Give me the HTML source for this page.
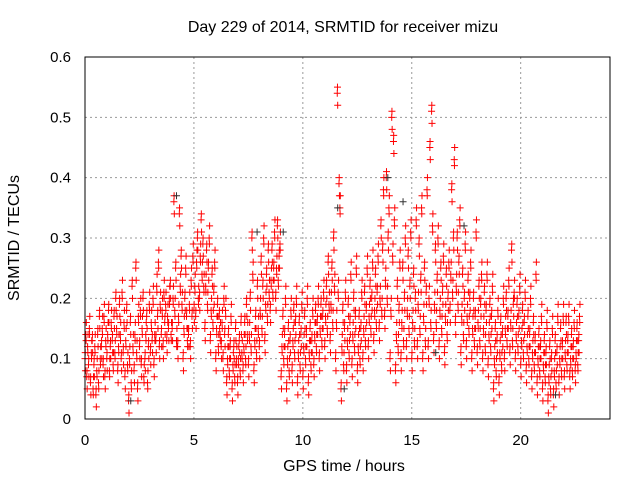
<!DOCTYPE html>
<html><head><meta charset="utf-8"><style>
html,body{margin:0;padding:0;background:#fff}
svg{display:block;font-family:"Liberation Sans",sans-serif}
</style></head><body>
<svg id="chart" width="640" height="480">
<text x="343" y="32" font-size="16" text-anchor="middle">Day 229 of 2014, SRMTID for receiver mizu</text>
<text x="344" y="471" font-size="16" text-anchor="middle">GPS time / hours</text>
<text x="0" y="0" font-size="16" text-anchor="middle" transform="translate(19,238) rotate(-90)">SRMTID / TECUs</text>
<g id="grid"></g><g id="pts"></g>
<rect x="85" y="57" width="525" height="362" fill="none" stroke="#000" stroke-width="1"/>
<g id="ticks"></g>
</svg>
<script>
const xTicks=[0,5,10,15,20];
const yTicks=[0,0.1,0.2,0.3,0.4,0.5,0.6];
const yTickLabels=["0","0.1","0.2","0.3","0.4","0.5","0.6"];
const binHours=0.25;
const redBins=[
[10,14,7,12,9,15],[6,11,13,5,9,12],[4,8,14,6,17,10],[12,15,9,17,7,13],
[10,14,18,8,12,16],[13,9,17,11,20,15],[8,12,19,14,10,21],[11,16,7,13,18,9],
[3,10,16,6,22,12],[8,14,25,11,5,17],[12,18,9,15,20,7],[10,14,17,6,12,19],
[11,16,13,20,9,14],[13,22,17,26,12,19],[14,18,12,21,16,19],[13,17,15,20,22,14],
[15,20,36,18,25,13],[12,17,34,22,27,19],[10,15,20,25,17,13],[14,19,12,23,17,27],
[18,22,17,26,30,20],[20,27,33,24,29,22],[15,22,28,19,25,30],[13,18,24,16,21,26],
[10,15,19,12,17,14],[12,16,10,20,14,18],[6,10,14,8,12,17],[5,9,12,7,15,10],
[6,10,13,8,16,11],[8,12,16,10,19,14],[9,14,20,12,30,24],[8,13,17,11,22,15],
[12,18,26,15,22,30],[13,19,24,17,28,21],[18,23,28,21,25,31],[20,25,32,23,27,29],
[7,12,17,10,14,20],[5,10,15,8,13,18],[8,13,18,11,16,20],[6,11,16,9,14,19],
[7,12,17,10,14,20],[6,11,15,9,13,18],[9,14,18,12,16,20],[10,15,19,13,17,21],
[12,17,22,15,26,19],[13,19,25,16,30,22],[10,16,54,21,39,35],[5,12,18,9,15,21],
[8,13,19,11,16,24],[9,14,20,12,17,25],[8,12,17,10,15,21],[10,15,21,13,18,25],
[12,17,22,15,20,26],[13,18,24,16,21,27],[15,20,32,18,28,38],[17,23,40,20,30,35],
[10,18,50,27,46,33],[8,14,22,12,18,26],[10,16,25,13,20,30],[12,18,27,15,22,31],
[10,16,24,13,20,33],[12,19,29,15,23,35],[10,17,25,13,21,38],[12,20,45,16,51,32],
[13,19,28,16,23,30],[12,18,25,15,21,27],[11,17,24,14,20,26],[18,24,38,21,30,43],
[16,22,30,19,26,33],[11,17,24,14,20,29],[12,17,23,15,20,26],[10,15,20,13,17,31],
[11,16,22,13,19,24],[10,15,21,12,18,24],[9,14,19,12,17,22],[5,10,15,8,13,18],
[6,11,16,9,14,20],[10,15,20,13,17,23],[11,16,28,13,19,21],[10,14,19,12,17,22],
[9,13,18,11,16,21],[8,12,17,10,14,20],[7,11,16,9,13,24],[6,10,14,8,12,17],
[5,9,13,7,11,16],[3,7,12,5,10,15],[4,8,13,6,11,17],[6,10,15,8,12,17],
[7,11,16,9,13,17],[7,10,14,8,12,16],[8,11,15,9,13,17]
];
const blackTimes=[4.2,7.9,9.1,11.6,11.9,13.9,14.6,16.1,17.4,21.6,2.1];
const blackValues=[0.37,0.31,0.31,0.35,0.05,0.4,0.36,0.11,0.32,0.04,0.03];

const NS="http://www.w3.org/2000/svg";
const X=t=>85+t*(525/24.1);
const Y=v=>419-v*(362/0.6);
const grid=document.getElementById('grid'),ticks=document.getElementById('ticks'),pts=document.getElementById('pts');
function mk(tag,attrs,parent){const e=document.createElementNS(NS,tag);for(const k in attrs)e.setAttribute(k,attrs[k]);parent.appendChild(e);return e;}
xTicks.forEach(t=>{
 if(t>0){const g=mk('line',{x1:X(t),x2:X(t),y1:57,y2:419,stroke:'#999','stroke-dasharray':'2,3'},grid);
 
 }
 const tx=mk('text',{x:X(t),y:445,'font-size':15,'text-anchor':'middle'},ticks);tx.textContent=t;
 
 
});
yTicks.forEach((v,i)=>{
 if(v>0&&v<0.6){const g=mk('line',{x1:85,x2:610,y1:Y(v),y2:Y(v),stroke:'#999','stroke-dasharray':'2,3'},grid);
 
 }
 const tx=mk('text',{x:71,y:Y(v)+5,'font-size':15,'text-anchor':'end'},ticks);tx.textContent=yTickLabels[i];
 
 
});
function plus(t,v,color){
 const x=X(t),y=Y(v);
 const p=mk('path',{d:`M${x-3.5},${y}h7M${x},${y-3.5}v7`,stroke:color,'stroke-width':1,fill:'none'},pts);
 
 
}
redBins.forEach((vals,i)=>{
 vals.forEach((v,j)=>{
  plus(i*binHours+j*0.04,v/100,'#f00');
  plus(i*binHours+j*0.04+0.02,(v+(j%2?2:-2))/100,'#f00');
  plus(i*binHours+j*0.04+0.01,(v+(j%2?-1:1))/100,'#f00');
 });
});
blackTimes.forEach((t,i)=>plus(t,blackValues[i],'#333'));
</script>
</body></html>
